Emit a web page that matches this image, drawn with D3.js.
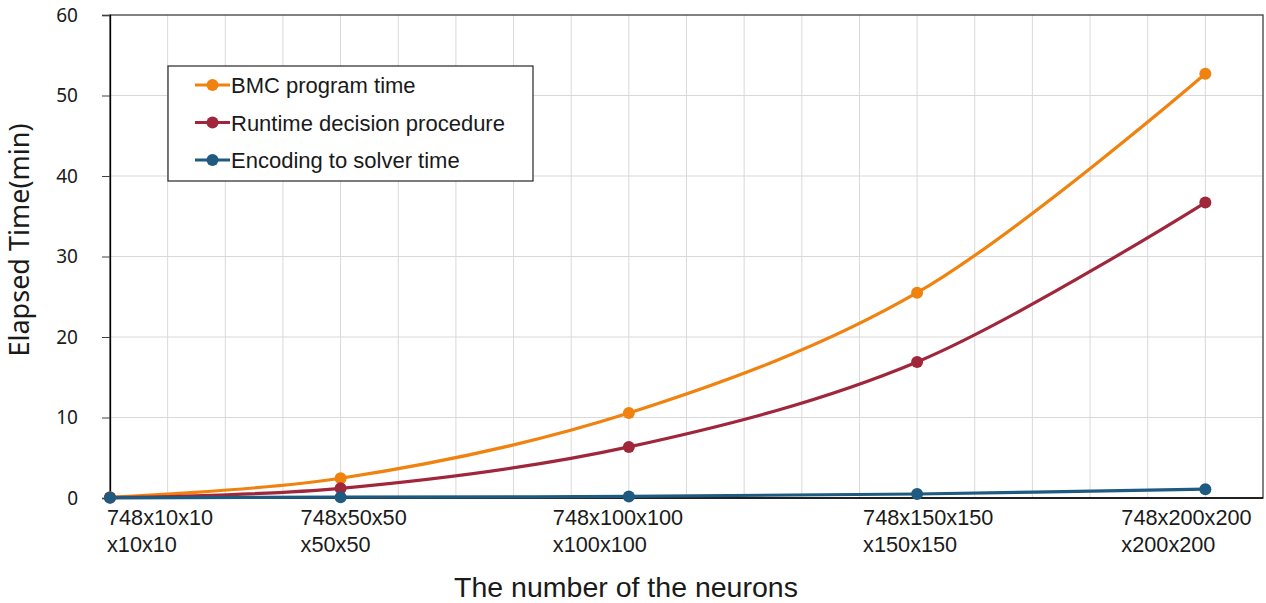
<!DOCTYPE html>
<html>
<head>
<meta charset="utf-8">
<script src="https://cdn.jsdelivr.net/npm/d3@7"></script>
<style>
  body { margin: 0; background: #fff; }
  svg { display: block; }
</style>
</head>
<body>
<div id="chart"></div>
<script>
// neuron counts per hidden layer
var neurons = [10, 50, 100, 150, 200];
var tickLines1 = ["748x10x10", "748x50x50", "748x100x100", "748x150x150", "748x200x200"];
var tickLines2 = ["x10x10", "x50x50", "x100x100", "x150x150", "x200x200"];

var seriesNames = ["BMC program time", "Runtime decision procedure", "Encoding to solver time"];
var bmcTime = [0.1, 2.45, 10.55, 25.5, 52.7];
var runtimeDecision = [0.05, 1.2, 6.35, 16.9, 36.7];
var encodingTime = [0.02, 0.1, 0.2, 0.5, 1.1];
var yTicks = [0, 10, 20, 30, 40, 50, 60];

var colors = ["#f0830f", "#a0273b", "#1f5a80"];

var svgWidth = 1266, svgHeight = 603;
var margin = { top: 15, right: 3, bottom: 105, left: 110 };
var width = svgWidth - margin.left - margin.right;
var height = svgHeight - margin.top - margin.bottom;

var svg = d3.select("#chart").append("svg")
    .attr("width", svgWidth)
    .attr("height", svgHeight);

var g = svg.append("g")
    .attr("transform", "translate(" + margin.left + "," + margin.top + ")");

var x = d3.scaleLinear().domain([10, 210]).range([0, width]);
var y = d3.scaleLinear().domain([0, 60]).range([height, 0]);

// grid
g.append("g").selectAll("line")
    .data(d3.range(20, 210, 10))
    .enter().append("line")
    .attr("x1", function(d) { return x(d); })
    .attr("x2", function(d) { return x(d); })
    .attr("y1", 0).attr("y2", height)
    .attr("stroke", "#d9d9d9").attr("stroke-width", 1);

g.append("g").selectAll("line")
    .data(yTicks.slice(1, -1))
    .enter().append("line")
    .attr("x1", 0).attr("x2", width)
    .attr("y1", function(d) { return y(d); })
    .attr("y2", function(d) { return y(d); })
    .attr("stroke", "#d9d9d9").attr("stroke-width", 1);

// frame
g.append("rect")
    .attr("x", 0).attr("y", 0)
    .attr("width", width).attr("height", height)
    .attr("fill", "none")
    .attr("stroke", "#404040").attr("stroke-width", 1.3);

// y axis
var yAxis = g.append("g")
    .call(d3.axisLeft(y).tickValues(yTicks).tickSize(8).tickPadding(24));
yAxis.select(".domain").attr("stroke", "#000").attr("stroke-width", 1.3);
yAxis.selectAll(".tick line").attr("stroke", "#404040");
yAxis.selectAll(".tick text")
    .attr("font-family", "'Noto Sans', sans-serif")
    .attr("font-size", 19)
    .attr("fill", "#1a1a1a");

// x baseline
g.append("line")
    .attr("x1", 0).attr("x2", width)
    .attr("y1", height).attr("y2", height)
    .attr("stroke", "#000").attr("stroke-width", 1.5);

// x tick labels, left edge offset like the hand-placed boxes in the original
var labelShift = [-3, -40, -76, -54, -84];
var xl = g.append("g")
    .attr("font-family", "'Liberation Sans', Arial, sans-serif")
    .attr("font-size", 21.7)
    .attr("fill", "#1a1a1a");
neurons.forEach(function(n, i) {
    var t = xl.append("text")
        .attr("transform", "translate(" + (x(n) + labelShift[i]) + "," + (height + 27) + ")");
    t.append("tspan").attr("x", 0).attr("y", 0).text(tickLines1[i]);
    t.append("tspan").attr("x", 0).attr("y", 27).text(tickLines2[i]);
});

// lines
var allSeries = [bmcTime, runtimeDecision, encodingTime];
var line = d3.line()
    .x(function(d, i) { return x(neurons[i]); })
    .y(function(d) { return y(d); })
    .curve(d3.curveCatmullRom.alpha(0.5));

allSeries.forEach(function(vals, s) {
    g.append("path")
        .datum(vals)
        .attr("fill", "none")
        .attr("stroke", colors[s])
        .attr("stroke-width", 3.2)
        .attr("stroke-linejoin", "round")
        .attr("d", line);
});
allSeries.forEach(function(vals, s) {
    g.append("g").selectAll("circle")
        .data(vals)
        .enter().append("circle")
        .attr("cx", function(d, i) { return x(neurons[i]); })
        .attr("cy", function(d) { return y(d); })
        .attr("r", 6)
        .attr("fill", colors[s]);
});

// legend
var legend = svg.append("g").attr("transform", "translate(168,66)");
legend.append("rect")
    .attr("width", 365).attr("height", 115)
    .attr("fill", "#fff")
    .attr("stroke", "#262626").attr("stroke-width", 1.2);
seriesNames.forEach(function(name, i) {
    var ly = 19 + i * 37.5;
    legend.append("line")
        .attr("x1", 27).attr("x2", 62)
        .attr("y1", ly).attr("y2", ly)
        .attr("stroke", colors[i]).attr("stroke-width", 3.2);
    legend.append("circle")
        .attr("cx", 44.5).attr("cy", ly).attr("r", 6)
        .attr("fill", colors[i]);
    legend.append("text")
        .attr("x", 63).attr("y", ly + 8)
        .attr("font-family", "'Liberation Sans', Arial, sans-serif")
        .attr("font-size", 22)
        .attr("fill", "#1a1a1a")
        .text(name);
});

// axis titles
svg.append("text")
    .attr("transform", "translate(29,240) rotate(-90)")
    .attr("text-anchor", "middle")
    .attr("font-family", "'Noto Sans', sans-serif")
    .attr("font-size", 27)
    .attr("fill", "#1a1a1a")
    .text("Elapsed Time(min)");

svg.append("text")
    .attr("x", 626).attr("y", 597)
    .attr("text-anchor", "middle")
    .attr("font-family", "'Liberation Sans', Arial, sans-serif")
    .attr("font-size", 28.5)
    .attr("fill", "#1a1a1a")
    .text("The number of the neurons");
</script>
</body>
</html>
